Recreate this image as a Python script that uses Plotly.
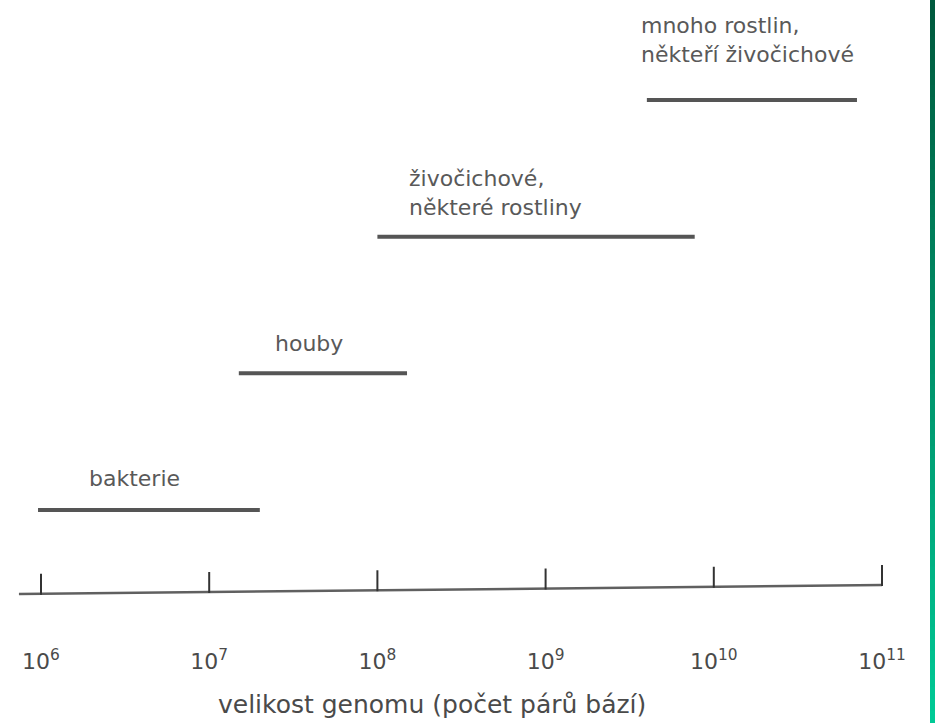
import math
import plotly.graph_objects as go

# ---- data ----
categories = ["bakterie", "houby", "živočichové,<br>některé rostliny", "mnoho rostlin,<br>někteří živočichové"]
range_start = [9.6e5, 1.5e7, 1.0e8, 4.0e9]    # base pairs
range_end = [2.0e7, 1.5e8, 7.7e9, 7.1e10]     # base pairs
tick_values = [1e6, 1e7, 1e8, 1e9, 1e10, 1e11]
tick_labels = ["10<sup>6</sup>", "10<sup>7</sup>", "10<sup>8</sup>", "10<sup>9</sup>",
               "10<sup>10</sup>", "10<sup>11</sup>"]
axis_title = "velikost genomu (počet párů bází)"

# ---- layout geometry (pixels) ----
W, H = 935, 723
PLOT_H = 600
PX_PER_DEC = 168.2
X6_PX = 41.0
ROW_PX = 136.67
ROW0_PX = 510.0

x_range = [6 - X6_PX / PX_PER_DEC, 6 + (W - X6_PX) / PX_PER_DEC]
y_range = [(ROW0_PX - PLOT_H) / ROW_PX, ROW0_PX / ROW_PX]


def py_to_y(py):
    return (ROW0_PX - py) / ROW_PX


LINE_COLOR = "#555555"
TEXT_COLOR = "#595959"
FONT = "DejaVu Sans"

fig = go.Figure()

# range segments
for i, (a, b) in enumerate(zip(range_start, range_end)):
    fig.add_trace(go.Scatter(x=[a, b], y=[i, i], mode="lines",
                             line=dict(color=LINE_COLOR, width=4),
                             showlegend=False, hoverinfo="skip"))

# hand-drawn looking axis line (slightly sloped) with upward ticks
ax_left_log, ax_left_py = 5.869, 594.0
ax_right_log, ax_right_py = 11.0, 585.0


def axis_py(logx):
    t = (logx - ax_left_log) / (ax_right_log - ax_left_log)
    return ax_left_py + t * (ax_right_py - ax_left_py)


fig.add_trace(go.Scatter(x=[10 ** ax_left_log, 10 ** ax_right_log],
                         y=[py_to_y(ax_left_py), py_to_y(ax_right_py)],
                         mode="lines", line=dict(color="#606060", width=2.5),
                         showlegend=False, hoverinfo="skip"))
tx, ty = [], []
for v in tick_values:
    lg = math.log10(v)
    yb = axis_py(lg)
    tx += [v, v, None]
    ty += [py_to_y(yb + 1), py_to_y(yb - 20), None]
fig.add_trace(go.Scatter(x=tx, y=ty, mode="lines", line=dict(color="#333333", width=2),
                         showlegend=False, hoverinfo="skip"))

# labels
label_dx = [49, 34, 30, -8]
label_dy = [32, 30, 44, 60]
annotations = []
for i, name in enumerate(categories):
    annotations.append(dict(x=math.log10(range_start[i]), y=i, xref="x", yref="y",
                            text=name, showarrow=False, xanchor="left", yanchor="middle",
                            align="left", xshift=label_dx[i], yshift=label_dy[i],
                            font=dict(family=FONT, size=22, color=TEXT_COLOR)))

# axis title (placed as in the reference, left of centre)
annotations.append(dict(x=432 / W, y=(PLOT_H - 704) / PLOT_H, xref="paper", yref="paper",
                        text=axis_title, showarrow=False, xanchor="center", yanchor="middle",
                        font=dict(family=FONT, size=25, color="#4a4a4a")))

# green stripe at right edge (vertical gradient)
shapes = []
N = 60
c0 = (0, 90, 62)
c1 = (0, 202, 150)
for k in range(N):
    t = k / (N - 1)
    r = int(c0[0] + (c1[0] - c0[0]) * t)
    g = int(c0[1] + (c1[1] - c0[1]) * t)
    b = int(c0[2] + (c1[2] - c0[2]) * t)
    top_px = H * k / N
    bot_px = H * (k + 1) / N + 1
    shapes.append(dict(type="rect", xref="paper", yref="paper",
                       x0=930 / W, x1=1.0,
                       y0=(PLOT_H - bot_px) / PLOT_H, y1=(PLOT_H - top_px) / PLOT_H,
                       fillcolor=f"rgb({r},{g},{b})", line=dict(width=0), layer="above"))

fig.update_layout(
    width=W, height=H,
    margin=dict(l=0, r=0, t=0, b=H - PLOT_H),
    paper_bgcolor="white", plot_bgcolor="white",
    xaxis=dict(type="log", range=x_range, tickvals=tick_values, ticktext=tick_labels,
               showline=False, showgrid=False, zeroline=False, ticks="",
               ticklabelstandoff=46,
               tickfont=dict(family=FONT, size=22, color="#4a4a4a")),
    yaxis=dict(range=y_range, visible=False),
    annotations=annotations,
    shapes=shapes,
)

fig.write_html("out.html",
               config={"displayModeBar": False},
               post_script="document.body.style.margin='0';document.body.style.overflow='hidden';")
